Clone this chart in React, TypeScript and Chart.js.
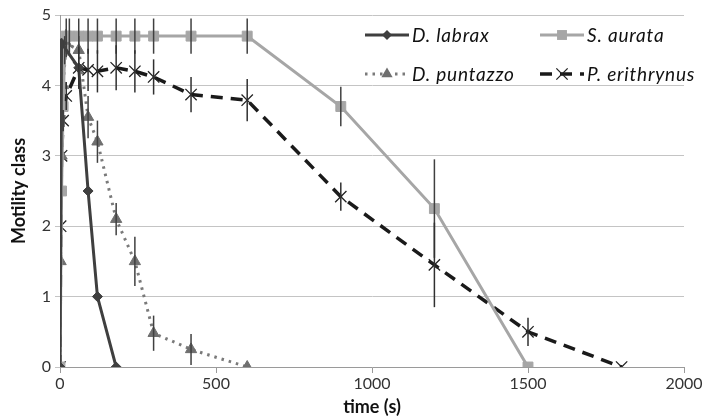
import React, { useEffect, useRef } from "react";
import { Chart, registerables } from "chart.js";
Chart.register(...registerables);

// ---- data ----
const seriesNames = ["D. labrax", "S. aurata", "D. puntazzo", "P. erithrynus"];

const labraxTime = [0, 5, 60, 90, 120, 180];
const labraxValue = [0, 4.6, 4.25, 2.5, 1.0, 0];
const labraxError = [0, 0, 0, 0, 0, 0];

const aurataTime = [0, 5, 10, 15, 20, 30, 60, 90, 120, 180, 240, 300, 420, 600, 900, 1200, 1500];
const aurataValue = [0, 2.5, 3.7, 4.5, 4.7, 4.7, 4.7, 4.7, 4.7, 4.7, 4.7, 4.7, 4.7, 4.7, 3.7, 2.25, 0];
const aurataError = [0, 0, 0, 0.2, 0.25, 0.25, 0.25, 0.25, 0.25, 0.25, 0.25, 0.25, 0.25, 0.25, 0.28, 0.7, 0];

const puntazzoTime = [0, 2, 5, 10, 20, 60, 90, 120, 180, 240, 300, 420, 600];
const puntazzoValue = [0, 1.5, 3.0, 4.0, 4.6, 4.5, 3.55, 3.2, 2.1, 1.5, 0.48, 0.25, 0];
const puntazzoError = [0, 0, 0, 0, 0.2, 0.2, 0.3, 0.3, 0.23, 0.35, 0.25, 0.22, 0];

const erithTime = [0, 2, 5, 10, 20, 60, 90, 120, 180, 240, 300, 420, 600, 900, 1200, 1500, 1800];
const erithValue = [0, 2.0, 3.0, 3.5, 3.85, 4.25, 4.22, 4.2, 4.25, 4.2, 4.12, 3.87, 3.79, 2.42, 1.45, 0.5, 0];
const erithError = [0, 0, 0, 0.15, 0.2, 0.3, 0.3, 0.3, 0.32, 0.3, 0.25, 0.25, 0.3, 0.2, 0.6, 0.2, 0];

const xTicks = [0, 500, 1000, 1500, 2000];
const yTicks = [0, 1, 2, 3, 4, 5];

const FONT = "Lato, 'Open Sans', sans-serif";

const toPoints = (t: number[], v: number[]) => t.map((x, i) => ({ x, y: v[i] }));

function drawMarker(ctx: CanvasRenderingContext2D, style: string, x: number, y: number, r: number, fill: string, stroke: string, bw: number) {
  ctx.save();
  ctx.fillStyle = fill;
  ctx.strokeStyle = stroke;
  ctx.lineWidth = bw;
  ctx.setLineDash([]);
  ctx.beginPath();
  if (style === "rect") {
    const s = Math.SQRT1_2 * r;
    ctx.rect(x - s, y - s, 2 * s, 2 * s);
    ctx.fill();
  } else if (style === "rectRot") {
    ctx.moveTo(x, y - r);
    ctx.lineTo(x + r, y);
    ctx.lineTo(x, y + r);
    ctx.lineTo(x - r, y);
    ctx.closePath();
    ctx.fill();
  } else if (style === "triangle") {
    ctx.moveTo(x, y - r);
    ctx.lineTo(x + r * 0.866, y + r * 0.5);
    ctx.lineTo(x - r * 0.866, y + r * 0.5);
    ctx.closePath();
    ctx.fill();
  } else if (style === "crossRot") {
    const d = r * Math.SQRT1_2;
    ctx.moveTo(x - d, y - d);
    ctx.lineTo(x + d, y + d);
    ctx.moveTo(x - d, y + d);
    ctx.lineTo(x + d, y - d);
    ctx.stroke();
  }
  ctx.restore();
}

const errorBarPlugin = {
  id: "errorBars",
  afterDatasetsDraw(chart: any) {
    const { ctx, scales } = chart;
    const xs = scales.x;
    const ys = scales.y;
    chart.data.datasets.forEach((ds: any) => {
      const errs: number[] = ds.errors;
      if (!errs) return;
      ctx.save();
      ctx.strokeStyle = ds.errorColor;
      ctx.lineWidth = 1.5;
      ds.data.forEach((p: any, j: number) => {
        const e = errs[j];
        if (!e) return;
        const px = xs.getPixelForValue(p.x);
        ctx.beginPath();
        ctx.moveTo(px, ys.getPixelForValue(p.y + e));
        ctx.lineTo(px, ys.getPixelForValue(p.y - e));
        ctx.stroke();
      });
      ctx.restore();
    });
  },
};

const legendPlugin = {
  id: "insideLegend",
  afterDraw(chart: any) {
    const { ctx, chartArea } = chart;
    chart.data.datasets.forEach((ds: any, i: number) => {
      const col = i % 2;
      const row = Math.floor(i / 2);
      const x0 = chartArea.left + 305 + col * 175;
      const yc = chartArea.top + 20 + row * 39;
      ctx.save();
      ctx.strokeStyle = ds.borderColor;
      ctx.lineWidth = ds.borderWidth;
      ctx.lineCap = ds.borderCapStyle || "butt";
      ctx.setLineDash(ds.borderDash || []);
      ctx.beginPath();
      ctx.moveTo(x0, yc);
      ctx.lineTo(x0 + 44, yc);
      ctx.stroke();
      ctx.restore();
      drawMarker(ctx, ds.pointStyle, x0 + 22, yc, ds.pointRadius, ds.pointBackgroundColor, ds.pointBorderColor, ds.pointBorderWidth);
      ctx.save();
      ctx.font = `italic 19px ${FONT}`;
      (ctx as any).letterSpacing = "0.8px";
      ctx.fillStyle = "#111111";
      ctx.textBaseline = "middle";
      ctx.textAlign = "left";
      ctx.fillText(ds.label, x0 + 47, yc + 1);
      ctx.restore();
    });
  },
};

export default function App() {
  const ref = useRef<HTMLCanvasElement>(null);
  useEffect(() => {
    document.body.style.margin = "0";
    const canvas = ref.current!;
    const chart = new Chart(canvas, {
      type: "line",
      data: {
        datasets: [
          {
            label: seriesNames[0],
            data: toPoints(labraxTime, labraxValue),
            errors: labraxError,
            errorColor: "#303030",
            borderColor: "#3f3f3f",
            borderWidth: 3,
            pointStyle: "rectRot",
            pointRadius: 5,
            pointBackgroundColor: "#3f3f3f",
            pointBorderColor: "#3f3f3f",
            pointBorderWidth: 1,
            tension: 0,
          } as any,
          {
            label: seriesNames[1],
            data: toPoints(aurataTime, aurataValue),
            errors: aurataError,
            errorColor: "#404040",
            borderColor: "#a6a6a6",
            borderWidth: 3,
            pointStyle: "rect",
            pointRadius: 7,
            pointBackgroundColor: "#a6a6a6",
            pointBorderColor: "#a6a6a6",
            pointBorderWidth: 1,
            tension: 0,
          } as any,
          {
            label: seriesNames[2],
            data: toPoints(puntazzoTime, puntazzoValue),
            errors: puntazzoError,
            errorColor: "#404040",
            borderColor: "#7a7a7a",
            borderWidth: 3,
            borderDash: [2.5, 5],
            pointStyle: "triangle",
            pointRadius: 6.5,
            pointBackgroundColor: "#6f6f6f",
            pointBorderColor: "#6f6f6f",
            pointBorderWidth: 1,
            tension: 0,
          } as any,
          {
            label: seriesNames[3],
            data: toPoints(erithTime, erithValue),
            errors: erithError,
            errorColor: "#303030",
            borderColor: "#1a1a1a",
            borderWidth: 3.5,
            borderDash: [12, 8],
            pointStyle: "crossRot",
            pointRadius: 8,
            pointBackgroundColor: "#222222",
            pointBorderColor: "#222222",
            pointBorderWidth: 1.3,
            tension: 0,
          } as any,
        ],
      },
      options: {
        responsive: false,
        animation: false,
        layout: { padding: { left: 0, right: 20, top: 15, bottom: 0 } },
        plugins: { legend: { display: false }, tooltip: { enabled: false } },
        scales: {
          x: {
            type: "linear",
            min: xTicks[0],
            max: xTicks[xTicks.length - 1],
            afterBuildTicks: (s: any) => { s.ticks = xTicks.map((v) => ({ value: v })); },
            ticks: { color: "#333333", font: { family: FONT, size: 16 }, padding: 1, maxRotation: 0, callback: (v: any) => String(v) },
            grid: { display: true, drawOnChartArea: false, drawTicks: true, tickLength: 6, color: "#9a9a9a" },
            border: { display: true, color: "#9a9a9a", width: 1 },
            title: { display: true, text: "time (s)", color: "#111111", font: { family: FONT, size: 18, weight: "bold" }, padding: { top: 0, bottom: 0 } },
            afterFit: (s: any) => { s.height = 51; },
          },
          y: {
            min: yTicks[0],
            max: yTicks[yTicks.length - 1],
            afterBuildTicks: (s: any) => { s.ticks = yTicks.map((v) => ({ value: v })); },
            ticks: { color: "#333333", font: { family: FONT, size: 16 }, padding: 4, callback: (v: any) => String(v) },
            grid: { color: "#c4c4c4", lineWidth: 1, tickLength: 5, drawTicks: true },
            border: { display: true, color: "#9a9a9a", width: 1 },
            title: { display: true, text: "Motility class", color: "#111111", font: { family: FONT, size: 18, weight: "bold" }, padding: { top: 8, bottom: 0 } },
            afterFit: (s: any) => { s.width = 60; },
          },
        },
      } as any,
      plugins: [errorBarPlugin, legendPlugin],
    });
    return () => chart.destroy();
  }, []);
  return (
    <div style={{ width: 704, height: 418, background: "#fff" }}>
      <canvas ref={ref} width={704} height={418} style={{ display: "block" }} />
    </div>
  );
}
